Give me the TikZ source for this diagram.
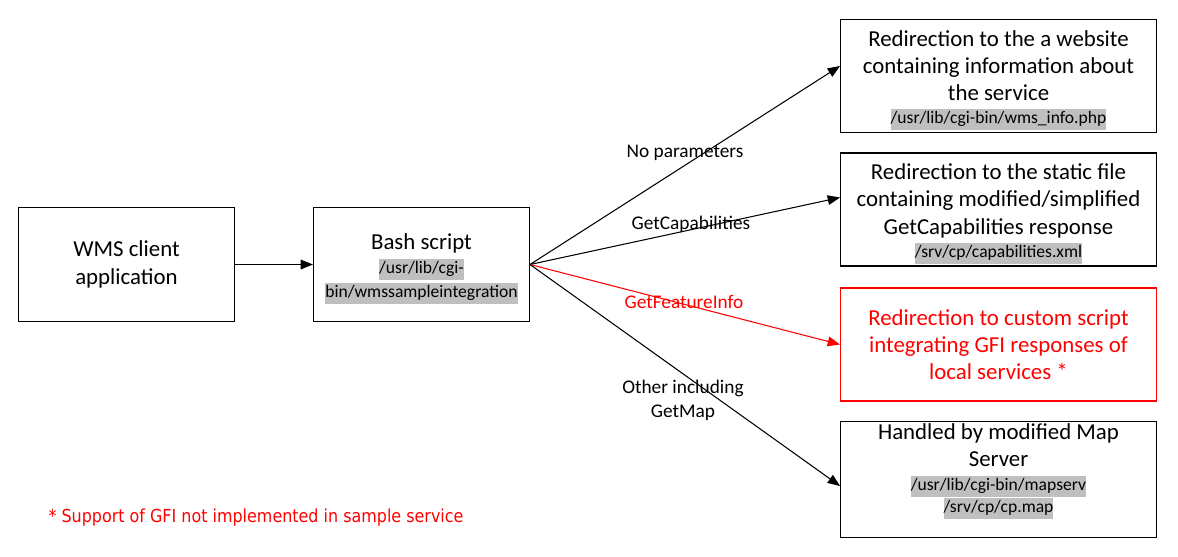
\documentclass[tikz,border=0pt]{standalone}
\usepackage{fontspec}
\setmainfont{Carlito}
\newfontfamily\notefont[FakeStretch=0.89]{DejaVu Sans}
\usepackage{xcolor}
\usetikzlibrary{arrows.meta}
\definecolor{pathgray}{HTML}{BFBFBF}
\newcommand{\pathtext}[1]{{\fontsize{10}{12}\selectfont\setlength{\fboxsep}{0pt}\colorbox{pathgray}{\strut#1}}}
\newcommand{\topstrut}{\rule{0pt}{14pt}}

\begin{document}
\begin{tikzpicture}[x=0.02cm,y=-0.02cm,line width=0.6pt,
  box/.style={draw, rectangle, align=center, inner sep=1pt, font=\fontsize{13}{15.5}\selectfont},
  leftbox/.style={box, minimum width=4.32cm, minimum height=2.28cm},
  rightbox/.style={box, minimum width=6.32cm, minimum height=2.26cm},
  lbl/.style={align=center, inner sep=0pt, font=\fontsize{11}{13.5}\selectfont},
  arr/.style={-{Triangle[length=7pt,width=5.5pt]}}]
\useasboundingbox (0,0) rectangle (1178,556);
% Boxes
\node[leftbox] (wms) at (126.5,264.5) {WMS client\\application};
\node[leftbox] (bash) at (421.5,264.5) {\topstrut Bash script\\[-2pt]\pathtext{/usr/lib/cgi-}\\[-2pt]\pathtext{bin/wmssampleintegration}};
\node[rightbox] (info) at (998.5,76) {\topstrut Redirection to the a website\\containing information about\\the service\\[-2.5pt]\pathtext{/usr/lib/cgi-bin/wms\_info.php}};
\node[rightbox] (caps) at (998.5,209.5) {\topstrut Redirection to the static file\\containing modified/simplified\\GetCapabilities response\\[-2pt]\pathtext{/srv/cp/capabilities.xml}};
\node[rightbox, draw=red, text=red] (gfi) at (998.5,344.5) {Redirection to custom script\\integrating GFI responses of\\local services *};
\node[rightbox] (mapserv) at (998.5,479.5) {Handled by modified Map\\Server\\[-2pt]\pathtext{/usr/lib/cgi-bin/mapserv}\\[-3pt]\pathtext{/srv/cp/cp.map}\rule[-13pt]{0pt}{13pt}};
% Connectors
\draw[arr] (wms) -- (bash);
\draw[arr] (bash.east) -- ([yshift=0.2cm]info.west);
\draw[arr] (bash.east) -- ([yshift=0.24cm]caps.west);
\draw[arr, red] (bash.east) -- (gfi.west);
\draw[arr] (bash.east) -- ([yshift=-0.13cm]mapserv.west);
% Labels
\node[lbl] (nopar) at (685,153) {No parameters};
\node[lbl] (getcaps) at (691,224) {GetCapabilities};
\node[lbl, text=red] (getfi) at (684,302) {GetFeatureInfo};
\node[lbl] (other) at (683,400) {Other including\\GetMap};
\node[text=red, inner sep=0pt, font=\notefont\fontsize{10.2}{12}\selectfont] (note) at (256,518) {* Support of GFI not implemented in sample service};
\end{tikzpicture}
\end{document}
